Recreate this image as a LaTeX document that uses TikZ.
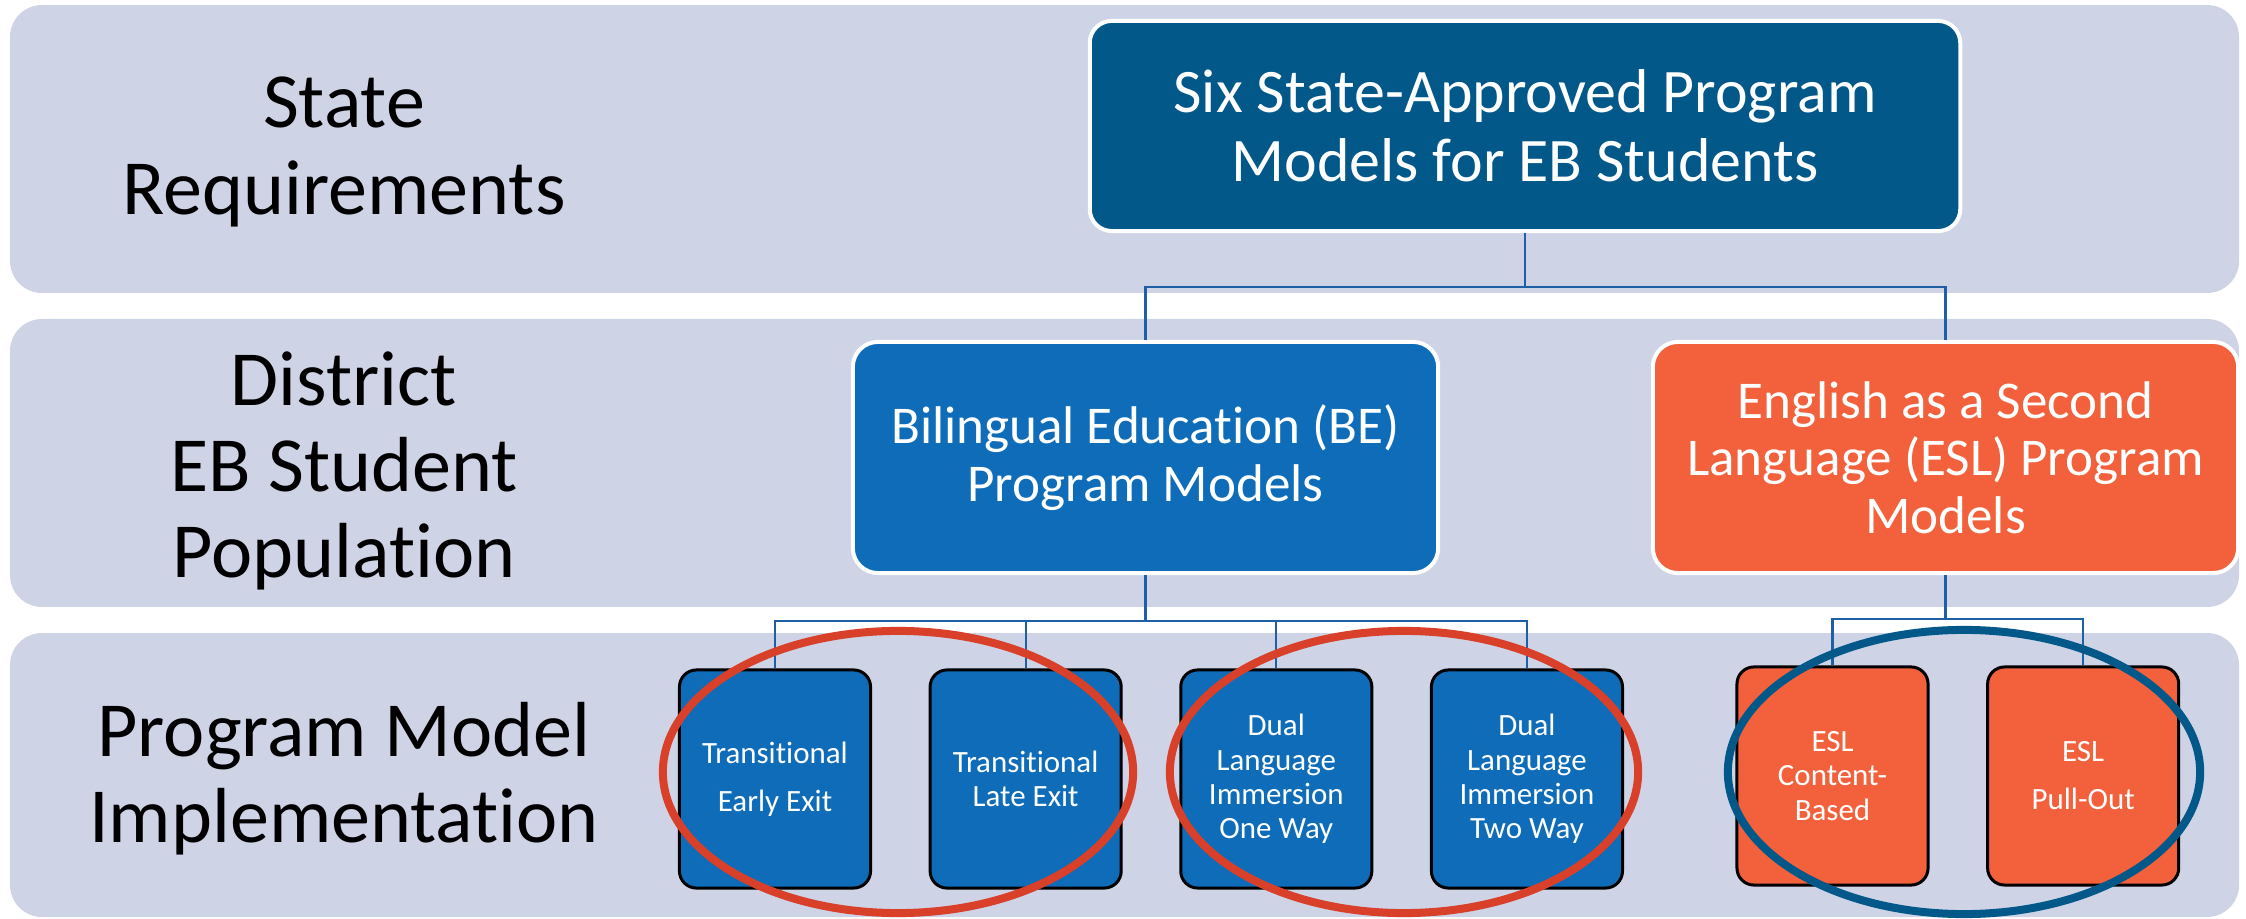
\documentclass[tikz,border=0pt]{standalone}
\usepackage{fontspec}
\setmainfont{Carlito}[Ligatures=NoCommon]
\usepackage{xcolor}
\definecolor{bandgray}{HTML}{CED4E6}
\definecolor{navy}{HTML}{03588A}
\definecolor{beblue}{HTML}{0E6CB8}
\definecolor{eslorange}{HTML}{F2613B}
\definecolor{ringred}{HTML}{D8402A}
\definecolor{linkblue}{HTML}{1F5FA5}

\begin{document}
\begin{tikzpicture}[
  x=0.01cm, y=-0.01cm,
  band/.style = {fill=bandgray, rounded corners=0.32cm},
  rowlabel/.style = {
    align=center,
    font=\fontsize{22.2}{24.5}\selectfont},
  topblock/.style = {
    rectangle, rounded corners=0.22cm,
    draw=white, line width=0.04cm,
    fill=navy, text=white,
    minimum width=8.7cm, minimum height=2.1cm,
    align=center,
    font=\fontsize{17.6}{19.6}\selectfont},
  midblock/.style = {
    rectangle, rounded corners=0.25cm,
    draw=white, line width=0.04cm, text=white,
    minimum width=5.85cm, minimum height=2.31cm,
    align=center,
    font=\fontsize{15.1}{16.4}\selectfont},
  leaf/.style = {
    rectangle, rounded corners=0.17cm,
    draw=black, line width=0.03cm, text=white,
    minimum width=1.91cm, minimum height=2.18cm,
    align=center,
    font=\fontsize{8.8}{9.8}\selectfont},
  link/.style = {draw=linkblue, line width=0.023cm},
  ring/.style = {line width=0.08cm},
  node distance = 2.505cm
  ]
\useasboundingbox (0,0) rectangle (2246,919);

% rows
\fill[band] (10,5) rectangle (2239,293);
\fill[band] (10,319) rectangle (2239,607);
\fill[band] (10,633) rectangle (2239,917);

\node(state)[rowlabel] at (344,152) {State\\Requirements};
\node(district)[rowlabel] at (344,471) {District\\EB Student\\Population};
\node(impl)[rowlabel] at (344,779) {Program Model\\Implementation};

% tree
\node(sixmodels)[topblock] at (1525,126) {Six State-Approved Program\\Models for EB Students};
\node(bemodels)[midblock,fill=beblue] at (1145.5,457.5) {Bilingual Education (BE)\\Program Models};
\node(eslmodels)[midblock,fill=eslorange] at (1945.5,457.5) {English as a Second\\Language (ESL) Program\\Models};

\node(early)[leaf,fill=beblue] at (775,779) {Transitional\\[0.136cm]Early Exit};
\node(late)[leaf,fill=beblue,right of=early] {Transitional\\Late Exit};
\node(oneway)[leaf,fill=beblue,right of=late] {Dual\\Language\\Immersion\\One Way};
\node(twoway)[leaf,fill=beblue,right of=oneway] {Dual\\Language\\Immersion\\Two Way};
\node(content)[leaf,fill=eslorange] at (1832.5,776) {ESL\\Content-\\Based};
\node(pullout)[leaf,fill=eslorange,right of=content] {ESL\\[0.136cm]Pull-Out};

\draw[link] (sixmodels.south) -- ++(0,54) -| (bemodels.north);
\draw[link] (sixmodels.south) -- ++(0,54) -| (eslmodels.north);
\foreach \kid in {early,late,oneway,twoway}
  \draw[link] (bemodels.south) -- ++(0,46) -| (\kid.north);
\foreach \kid in {content,pullout}
  \draw[link] (eslmodels.south) -- ++(0,44) -| (\kid.north);

% groupings
\draw[ring,ringred] (898,772) ellipse [x radius=2.35cm, y radius=1.41cm];
\draw[ring,ringred] (1404,772) ellipse [x radius=2.34cm, y radius=1.41cm];
\draw[ring,navy] (1964,772) ellipse [x radius=2.36cm, y radius=1.42cm];

\end{tikzpicture}
\end{document}
